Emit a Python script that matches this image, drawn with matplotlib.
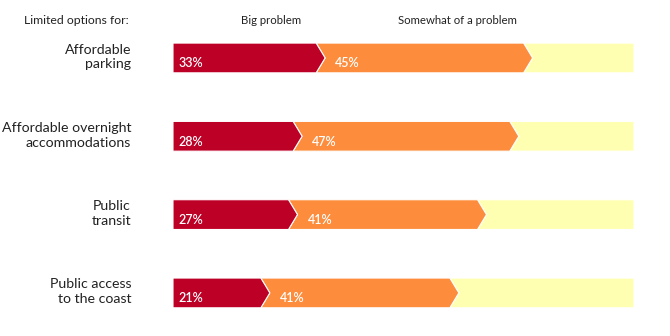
import matplotlib
matplotlib.use('Agg')
import matplotlib.pyplot as plt
from matplotlib.patches import Polygon

plt.rcParams['font.family'] = ['Lato', 'DejaVu Sans']

categories = ['Affordable\nparking', 'Affordable overnight\naccommodations',
              'Public\ntransit', 'Public access\nto the coast']
big = [33, 28, 27, 21]
somewhat = [45, 47, 41, 41]
headers = ['Big problem', 'Somewhat of a problem']

red = '#bd0026'
orange = '#fd8d3c'
yellow = '#ffffb2'

W, H = 670, 336
fig = plt.figure(figsize=(W / 100, H / 100), dpi=100)
ax = fig.add_axes([173 / W, 0, 461 / W, 1])
ax.set_xlim(0, 100)
ax.set_ylim(3.55, -0.74)
ax.axis('off')

h = 0.19   # half bar height
d = 1.95   # chevron depth

for i, (b, s) in enumerate(zip(big, somewhat)):
    v1 = b
    v2 = b + s
    top, bot = i - h, i + h
    ax.add_patch(Polygon([(v2 - d, top), (100, top), (100, bot), (v2 - d, bot), (v2, i)],
                         closed=True, facecolor=yellow, edgecolor='white', linewidth=0.8))
    ax.add_patch(Polygon([(v1 - d, top), (v2 - d, top), (v2, i), (v2 - d, bot), (v1 - d, bot), (v1, i)],
                         closed=True, facecolor=orange, edgecolor='white', linewidth=0.8))
    ax.add_patch(Polygon([(0, top), (v1 - d, top), (v1, i), (v1 - d, bot), (0, bot)],
                         closed=True, facecolor=red, edgecolor='white', linewidth=0.8))
    ax.text(1.1, i + 0.07, f'{b}%', color='white', fontsize=9, fontweight='semibold',
            ha='left', va='center')
    ax.text(v1 + 2.2, i + 0.07, f'{s}%', color='white', fontsize=9, fontweight='semibold',
            ha='left', va='center')
    fig.text(131 / W, 1 - (57 + i * 78.3) / H, categories[i], ha='right', va='center',
             fontsize=10.2, linespacing=1.3, color='#222222')

fig.text(129 / W, 1 - 21 / H, 'Limited options for:', ha='right', va='center',
         fontsize=8.8, color='#222222')
fig.text(271 / W, 1 - 21 / H, headers[0], ha='center', va='center',
         fontsize=8.2, color='#222222')
fig.text(457 / W, 1 - 21 / H, headers[1], ha='center', va='center',
         fontsize=8.2, color='#222222')

fig.savefig('out.png', dpi=100)
